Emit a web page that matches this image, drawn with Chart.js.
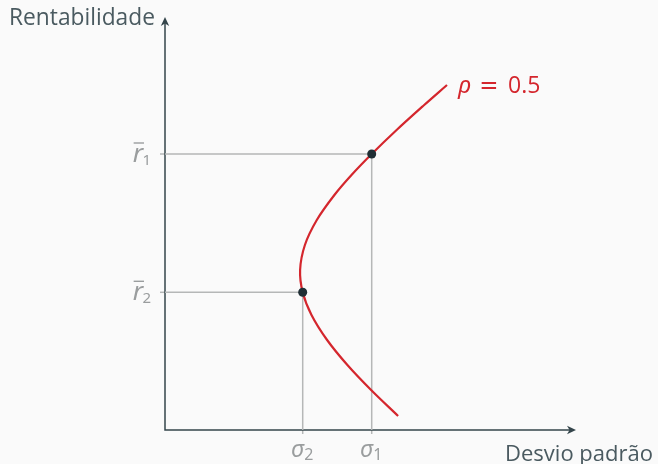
<!DOCTYPE html>
<html>
<head>
<meta charset="utf-8">
<script src="https://cdn.jsdelivr.net/npm/chart.js@4/dist/chart.umd.min.js"></script>
<style>
  html, body { margin: 0; padding: 0; background: #fafafa; }
  canvas { display: block; }
</style>
</head>
<body>
<canvas id="chart" width="658" height="464"></canvas>
<script>
// Minimum-variance frontier of two assets with correlation 0.5
// (standard deviation on x, expected return on y, arbitrary units)
const frontierSigma  = [2.331, 2.061, 1.824, 1.621, 1.465, 1.377, 1.351, 1.399, 1.518, 1.694, 1.865, 2.067, 2.316, 2.592, 2.820];
const frontierReturn = [0.14,  0.40,  0.65,  0.90,  1.15,  1.377, 1.60,  1.85,  2.10,  2.35,  2.55,  2.76,  3.00,  3.25,  3.45];

// The two assets: σ1, σ2 and r̄1, r̄2
const assetSigma  = [2.067, 1.377];
const assetReturn = [2.76, 1.377];
const assetIndex  = ['1', '2'];

const rhoValue = '0.5';
const xTitle = 'Desvio padrão';
const yTitle = 'Rentabilidade';

const AXIS = '#34454b';
const TITLE = '#4a5a60';
const TICK = '#9a9d9e';
const GUIDE = '#b5b7b7';
const RED = '#d4262d';
const DOT = '#1f2e34';

const frontier = frontierSigma.map((s, i) => ({ x: s, y: frontierReturn[i] }));
const assets = assetSigma.map((s, i) => ({ x: s, y: assetReturn[i] }));
const guideSets = assetSigma.map((s, i) => ({
  type: 'line',
  data: [{ x: 0, y: assetReturn[i] }, { x: s, y: assetReturn[i] }, { x: s, y: 0 }],
  borderColor: GUIDE,
  borderWidth: 1.5,
  pointRadius: 0,
  tension: 0,
  clip: false,
  order: 3
}));

function fitSize(ctx, text, style, family, width) {
  ctx.font = style + ' 100px ' + family;
  return 100 * width / ctx.measureText(text).width;
}

function arrowHead(ctx, x, y, angle) {
  ctx.save();
  ctx.translate(x, y);
  ctx.rotate(angle);
  ctx.beginPath();
  ctx.moveTo(0, 0);
  ctx.lineTo(-9, -4.2);
  ctx.lineTo(-6.5, 0);
  ctx.lineTo(-9, 4.2);
  ctx.closePath();
  ctx.fill();
  ctx.restore();
}

const axesPlugin = {
  id: 'axes',
  beforeDatasetsDraw(chart) {
    const { ctx, chartArea: a, scales: { x, y } } = chart;
    ctx.save();
    // guide stubs beyond the axes
    ctx.strokeStyle = GUIDE;
    ctx.lineWidth = 1.5;
    assetReturn.forEach(r => {
      const py = y.getPixelForValue(r);
      ctx.beginPath(); ctx.moveTo(a.left - 5, py); ctx.lineTo(a.left, py); ctx.stroke();
    });
    assetSigma.forEach(s => {
      const px = x.getPixelForValue(s);
      ctx.beginPath(); ctx.moveTo(px, a.bottom); ctx.lineTo(px, a.bottom + 4); ctx.stroke();
    });
    // axes with arrows
    ctx.strokeStyle = AXIS;
    ctx.fillStyle = AXIS;
    ctx.lineWidth = 1.5;
    ctx.beginPath();
    ctx.moveTo(a.left, a.bottom + 0.75);
    ctx.lineTo(a.left, a.top + 4);
    ctx.moveTo(a.left - 0.75, a.bottom);
    ctx.lineTo(a.right - 4, a.bottom);
    ctx.stroke();
    arrowHead(ctx, a.left, a.top, -Math.PI / 2);
    arrowHead(ctx, a.right, a.bottom, 0);
    ctx.restore();
  },
  afterDraw(chart) {
    const { ctx, chartArea: a, scales: { x, y } } = chart;
    ctx.save();
    ctx.textBaseline = 'alphabetic';
    ctx.textAlign = 'left';

    // axis titles
    const sans = '"Open Sans", "Noto Sans", sans-serif';
    ctx.fillStyle = TITLE;
    let fs = fitSize(ctx, yTitle, 'normal', sans, 146);
    ctx.font = fs.toFixed(2) + 'px ' + sans;
    ctx.fillText(yTitle, 9, 25);
    fs = fitSize(ctx, xTitle, 'normal', sans, 148);
    ctx.font = fs.toFixed(2) + 'px ' + sans;
    ctx.fillText(xTitle, 505, 461);

    // tick labels: r̄ᵢ on the y axis, σᵢ on the x axis
    const math = '"Noto Sans", "DejaVu Sans", sans-serif';
    ctx.fillStyle = TICK;
    ctx.strokeStyle = TICK;
    assetReturn.forEach((r, i) => {
      const py = y.getPixelForValue(r);
      ctx.font = 'italic 26px ' + math;
      const rw = ctx.measureText('r').width;
      const rx = a.left - 22 - rw;
      ctx.fillText('r', rx, py + 8);
      ctx.lineWidth = 1.4;
      ctx.beginPath();
      ctx.moveTo(rx + 1, py - 11);
      ctx.lineTo(rx + rw + 1, py - 11);
      ctx.stroke();
      ctx.font = '15px ' + math;
      ctx.fillText(assetIndex[i], a.left - 22.5, py + 10.5);
    });
    assetSigma.forEach((s, i) => {
      const px = x.getPixelForValue(s);
      ctx.font = 'italic 23px ' + math;
      const sw = ctx.measureText('σ').width;
      ctx.fillText('σ', px - sw + 1, a.bottom + 27);
      ctx.font = '16px ' + math;
      ctx.fillText(assetIndex[i], px + 1.5, a.bottom + 30);
    });

    // series label at the end of the frontier
    const last = frontier[frontier.length - 1];
    const lx = x.getPixelForValue(last.x) + 11;
    const ly = y.getPixelForValue(last.y) + 8;
    ctx.fillStyle = RED;
    ctx.font = 'italic 24px ' + math;
    ctx.fillText('ρ', lx, ly);
    ctx.font = '23px "DejaVu Sans", sans-serif';
    ctx.textAlign = 'center';
    ctx.fillText('=', lx + 31, ly);
    ctx.textAlign = 'left';
    ctx.font = '23px ' + sans;
    ctx.fillText(rhoValue, lx + 50, ly);
    ctx.restore();
  }
};

new Chart(document.getElementById('chart'), {
  type: 'scatter',
  data: {
    datasets: [
      {
        type: 'scatter',
        data: assets,
        pointRadius: 4.5,
        pointBackgroundColor: DOT,
        pointBorderColor: DOT,
        pointBorderWidth: 0,
        clip: false,
        order: 0
      },
      {
        type: 'line',
        data: frontier,
        borderColor: RED,
        borderWidth: 2.2,
        pointRadius: 0,
        tension: 0.35,
        fill: false,
        clip: false,
        order: 1
      },
      ...guideSets
    ]
  },
  options: {
    responsive: false,
    animation: false,
    events: [],
    layout: { padding: { left: 165, right: 82, top: 17, bottom: 34 } },
    scales: {
      x: { type: 'linear', display: false, min: 0, max: 4.11 },
      y: { type: 'linear', display: false, min: 0, max: 4.13 }
    },
    plugins: { legend: { display: false }, tooltip: { enabled: false } }
  },
  plugins: [axesPlugin]
});
</script>
</body>
</html>
